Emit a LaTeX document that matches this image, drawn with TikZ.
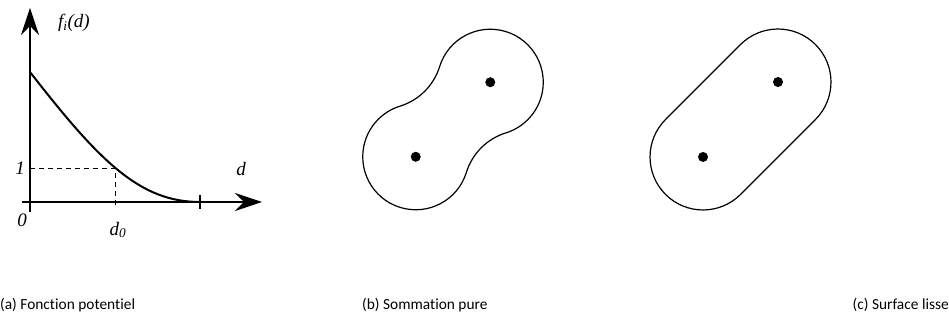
\documentclass[tikz,border=0pt]{standalone}
\usepackage{fontspec}
\setmainfont[Ligatures=NoCommon]{Carlito}
\newfontfamily\plotfont{Liberation Serif}
\usetikzlibrary{arrows.meta, positioning, calc}

\begin{document}
\begin{tikzpicture}[
      x=1pt, y=1pt,
      axis/.style={line width=1.3pt, -{Stealth[length=27pt, width=18pt, inset=9pt]}},
      curve/.style={line width=2pt},
      guide/.style={dashed, dash pattern=on 5pt off 4pt, line width=0.8pt},
      lbl/.style={font=\plotfont\itshape\fontsize{19}{22}\selectfont, inner sep=0pt},
      outline/.style={line width=1.2pt},
      dot/.style={circle, fill=black, inner sep=0pt, minimum size=10pt},
      caption/.style={font=\fontsize{15.4}{18}\selectfont, inner sep=0pt}
  ]
      \useasboundingbox (0,0) rectangle (949,320);

      % (a) potential function
      \coordinate (O) at (30,118);
      \coordinate (Ybot) at (30,108);
      \coordinate (Ytop) at (30,312);
      \coordinate (Xleft) at (22,118);
      \coordinate (Xright) at (262,118);
      \coordinate (F0) at (30,248);
      \coordinate (P1) at (115,152);
      \coordinate (R) at (200,118);
      \draw[axis] (Ybot) -- (Ytop);
      \draw[axis] (Xleft) -- (Xright);
      \draw[line width=1.2pt] ($(R)+(0,-7)$) -- ($(R)+(0,7)$);
      \draw[curve] (F0) .. controls (100,158) and (140,118) .. (R);
      \draw[guide] (O |- P1) -- (P1) -- ($(P1 |- O)+(0,-3)$);

      \node[lbl] (fd) at (74,297) {f\textsubscript{i}(d)};
      \node[lbl] (one) at (20,152) {1};
      \node[lbl] (zero) at (22,100) {0};
      \node[lbl] (dzero) at (118,90) {d\textsubscript{0}};
      \node[lbl] (dlab) at (241,151) {d};

      % (b) pure summation
      \begin{scope}[shift={(453,200.5)}, rotate=45]
          \draw[outline] (52.7,0) ++(117.8:53)
              arc[start angle=117.8, end angle=-117.8, radius=53]
              arc[start angle=62.2, end angle=117.8, radius=60]
              arc[start angle=-62.2, end angle=-297.8, radius=53]
              arc[start angle=242.2, end angle=297.8, radius=60] -- cycle;
          \node[dot] (b1) at (-52.7,0) {};
          \node[dot] (b2) at (52.7,0) {};
      \end{scope}

      % (c) smooth surface
      \begin{scope}[shift={(740.5,200.5)}, rotate=45]
          \draw[outline] (53,53)
              arc[start angle=90, end angle=-90, radius=53] -- (-53,-53)
              arc[start angle=270, end angle=90, radius=53] -- cycle;
          \node[dot] (c1) at (-53,0) {};
          \node[dot] (c2) at (53,0) {};
      \end{scope}

      % Captions
      \node[caption, anchor=west] (capa) at (0,15) {(a) Fonction potentiel};
      \node[caption, anchor=west] (capb) at (362,15) {(b) Sommation pure};
      \node[caption, anchor=east] (capc) at (949,15) {(c) Surface lisse};
  \end{tikzpicture}
\end{document}
